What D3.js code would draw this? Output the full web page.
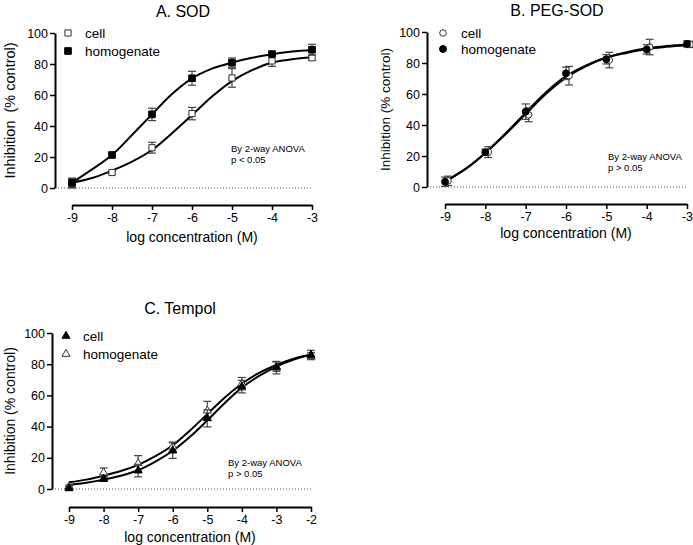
<!DOCTYPE html>
<html>
<head>
<meta charset="utf-8">
<script src="https://cdn.jsdelivr.net/npm/d3@7"></script>
<style>
  html, body { margin: 0; padding: 0; background: #fff; }
  svg { display: block; }
  text { font-family: "Liberation Sans", Arial, sans-serif; fill: #000; }
</style>
</head>
<body>
<svg id="chart" width="693" height="545"></svg>
<script>
// ---------- data ----------
const concAB = [-9, -8, -7, -6, -5, -4, -3];
const concC = [-9, -8, -7, -6, -5, -4, -3, -2];
const fitXAB = [-9, -8.5, -8, -7.5, -7, -6.5, -6, -5.5, -5, -4.5, -4, -3.5, -3];
const fitXC = [-9, -8.5, -8, -7.5, -7, -6.5, -6, -5.5, -5, -4.5, -4, -3.5, -3, -2.5, -2];
const yTicks = [0, 20, 40, 60, 80, 100];

// A. SOD
const sodCell = [3, 10, 26, 48, 71, 82, 84];
const sodCellSem = [3, 1, 3.5, 4, 6, 3.5, 1.5];
const sodHomog = [3.4, 21.3, 47.5, 70.8, 80.9, 86.4, 89.2];
const sodHomogSem = [3, 1.5, 4, 4.5, 3, 1, 3.5];
const sodCellFit = [3.4, 6.4, 11.2, 17, 24.5, 35.3, 47, 59, 69, 76, 81, 83, 84.3];
const sodHomogFit = [3.4, 12, 21.3, 34.2, 47.5, 60.6, 70.7, 77, 80.9, 84, 86.2, 88, 89];

// B. PEG-SOD
const pegCell = [4, 22.5, 46.6, 71.8, 81.9, 90.3, 92];
const pegCellSem = [3, 3.5, 4.5, 6, 5, 5, 2];
const pegHomog = [3.4, 22.4, 48.6, 73.3, 82.4, 88.8, 92.3];
const pegHomogSem = [3, 2, 5, 4, 3, 3, 2];
const pegCellFit = [3.5, 11.5, 22, 34, 47, 60, 70.5, 78, 83.5, 87, 89.5, 91, 92];
const pegHomogFit = [3.5, 11.5, 22, 34.5, 48, 61, 71.5, 78.5, 83.5, 86.5, 89, 90.5, 91.5];

// C. Tempol
const tempCell = [0.4, 6.4, 11.8, 24.6, 45.3, 65.6, 77.8, 85.9];
const tempCellSem = [1, 1.5, 4, 5, 5.5, 4, 4, 3];
const tempHomog = [1.5, 10.5, 16.4, 27.1, 50.2, 67.5, 78.4, 85.3];
const tempHomogSem = [1, 3, 5, 3, 6, 4, 3, 2];
const tempCellFit = [2.6, 4, 6, 8.5, 12, 17.5, 24.5, 33.5, 44, 55, 65, 72.5, 78.5, 83, 86];
const tempHomogFit = [4.3, 6, 8.5, 11.5, 15.5, 21, 28, 37.5, 48, 58.5, 67.5, 74.5, 79.5, 83.5, 86];

const legendLabels = ["cell", "homogenate"];
const titles = ["A. SOD", "B. PEG-SOD", "C. Tempol"];
const statText = [["By 2-way ANOVA", "p < 0.05"], ["By 2-way ANOVA", "p > 0.05"], ["By 2-way ANOVA", "p > 0.05"]];
const xTitle = "log concentration (M)";
const yTitles = ["Inhibition  (% control)", "Inhibition (% control)", "Inhibition (% control)"];

// ---------- drawing ----------
const svg = d3.select("#chart");

const panels = [
  {
    title: titles[0], titleX: 183, titleY: 17,
    xDom: [-9, -3], xRange: [72, 312], yRange: [188, 33], yAxisX: 55, xAxisY: 205,
    conc: concAB, fitX: fitXAB, xTicks: concAB,
    series: [
      { vals: sodCell, sem: sodCellSem, fit: sodCellFit, sym: d3.symbolSquare, size: 38, filled: false, dx: 0 },
      { vals: sodHomog, sem: sodHomogSem, fit: sodHomogFit, sym: d3.symbolSquare, size: 44, filled: true, dx: 0 }
    ],
    legX: 68, legTextX: 85, legY: [33, 51],
    stat: statText[0], statX: 231, statY: [152, 163],
    yTitle: yTitles[0], yTitleX: 15, yTitleFont: 14.5,
    xTitleY: 242, yTickFont: 12.5
  },
  {
    title: titles[1], titleX: 557, titleY: 16,
    xDom: [-9, -3], xRange: [445, 687], yRange: [187, 32], yAxisX: 427, xAxisY: 204,
    conc: concAB, fitX: fitXAB, xTicks: concAB,
    series: [
      { vals: pegCell, sem: pegCellSem, fit: pegCellFit, sym: d3.symbolCircle, size: 34, filled: false, dx: 3 },
      { vals: pegHomog, sem: pegHomogSem, fit: pegHomogFit, sym: d3.symbolCircle, size: 38, filled: true, dx: 0 }
    ],
    legX: 443, legTextX: 461, legY: [33, 49],
    stat: statText[1], statX: 608, statY: [160, 171],
    yTitle: yTitles[1], yTitleX: 390, yTitleFont: 13.5,
    xTitleY: 238, yTickFont: 12.5
  },
  {
    title: titles[2], titleX: 180, titleY: 314,
    xDom: [-9, -2], xRange: [69, 311], yRange: [489, 333], yAxisX: 52, xAxisY: 507,
    conc: concC, fitX: fitXC, xTicks: concC,
    series: [
      { vals: tempHomog, sem: tempHomogSem, fit: tempHomogFit, sym: d3.symbolTriangle, size: 28, filled: false, dx: 0 },
      { vals: tempCell, sem: tempCellSem, fit: tempCellFit, sym: d3.symbolTriangle, size: 28, filled: true, dx: 0 }
    ],
    legendOrder: [1, 0],
    legX: 66, legTextX: 83, legY: [336, 354],
    stat: statText[2], statX: 228, statY: [466, 477],
    yTitle: yTitles[2], yTitleX: 15, yTitleFont: 14,
    xTitleY: 542, yTickFont: 12.5
  }
];

panels.forEach(p => {
  const x = d3.scaleLinear().domain(p.xDom).range(p.xRange);
  const y = d3.scaleLinear().domain([0, 100]).range(p.yRange);
  const g = svg.append("g");

  // title
  g.append("text").attr("x", p.titleX).attr("y", p.titleY)
    .attr("text-anchor", "middle").attr("font-size", 16).text(p.title);

  // dotted zero line
  g.append("line")
    .attr("x1", p.yAxisX + 3).attr("x2", x(p.xDom[1]))
    .attr("y1", y(0)).attr("y2", y(0))
    .attr("stroke", "#555").attr("stroke-width", 1).attr("stroke-dasharray", "1,2");

  // y axis
  const ya = g.append("g").attr("transform", `translate(${p.yAxisX},0)`)
    .call(d3.axisLeft(y).tickValues(yTicks).tickSize(5).tickSizeOuter(0).tickPadding(2).tickFormat(d => String(d)));
  ya.select(".domain").attr("stroke-width", 2);
  ya.selectAll(".tick line").attr("stroke-width", 1.5);
  ya.selectAll("text").attr("font-size", p.yTickFont).attr("font-family", "Liberation Sans, Arial, sans-serif");

  // x axis (offset below plot)
  const xa = g.append("g").attr("transform", `translate(0,${p.xAxisY})`)
    .call(d3.axisBottom(x).tickValues(p.xTicks).tickSize(5).tickSizeOuter(0).tickPadding(3).tickFormat(d => String(d)));
  xa.select(".domain").attr("stroke-width", 2);
  xa.selectAll(".tick line").attr("stroke-width", 1.5);
  xa.selectAll("text").attr("font-size", 12.5).attr("font-family", "Liberation Sans, Arial, sans-serif");

  // axis titles
  g.append("text").attr("x", (p.xRange[0] + p.xRange[1]) / 2).attr("y", p.xTitleY)
    .attr("text-anchor", "middle").attr("font-size", 14).text(xTitle);
  g.append("text")
    .attr("transform", `translate(${p.yTitleX},${(p.yRange[0] + p.yRange[1]) / 2}) rotate(-90)`)
    .attr("text-anchor", "middle").attr("font-size", p.yTitleFont)
    .attr("xml:space", "preserve").style("white-space", "pre").text(p.yTitle);

  // fitted curves
  const line = d3.line().x(d => x(d[0])).y(d => y(d[1])).curve(d3.curveCatmullRom.alpha(0.5));
  p.series.forEach(s => {
    g.append("path").datum(p.fitX.map((xv, i) => [xv, s.fit[i]]))
      .attr("d", line).attr("fill", "none").attr("stroke", "#000").attr("stroke-width", 2);
  });

  // error bars and markers
  p.series.forEach(s => {
    const pts = p.conc.map((c, i) => ({ c, v: s.vals[i], e: s.sem[i] }));
    const eb = g.append("g").attr("stroke", "#444").attr("stroke-width", 1.2);
    pts.forEach(d => {
      const cx = x(d.c) + s.dx;
      eb.append("line").attr("x1", cx).attr("x2", cx).attr("y1", y(d.v - d.e)).attr("y2", y(d.v + d.e));
      [d.v - d.e, d.v + d.e].forEach(vv => {
        eb.append("line").attr("x1", cx - 4).attr("x2", cx + 4).attr("y1", y(vv)).attr("y2", y(vv));
      });
    });
    g.append("g").selectAll("path").data(pts).join("path")
      .attr("transform", d => `translate(${x(d.c) + s.dx},${y(d.v)})`)
      .attr("d", d3.symbol(s.sym, s.size))
      .attr("fill", s.filled ? "#000" : "#fff")
      .attr("stroke", s.filled ? "#000" : "#333")
      .attr("stroke-width", 1);
  });

  // legend
  const order = p.legendOrder || [0, 1];
  legendLabels.forEach((lab, i) => {
    const s = p.series[order[i]];
    g.append("path").attr("transform", `translate(${p.legX},${p.legY[i]})`)
      .attr("d", d3.symbol(s.sym, s.size))
      .attr("fill", s.filled ? "#000" : "#fff")
      .attr("stroke", s.filled ? "#000" : "#333").attr("stroke-width", 1);
    g.append("text").attr("x", p.legTextX).attr("y", p.legY[i] + 5)
      .attr("font-size", 13.5).text(lab);
  });

  // stats annotation
  p.stat.forEach((t, i) => {
    g.append("text").attr("x", p.statX).attr("y", p.statY[i]).attr("font-size", 9.5).text(t);
  });
});
</script>
</body>
</html>
